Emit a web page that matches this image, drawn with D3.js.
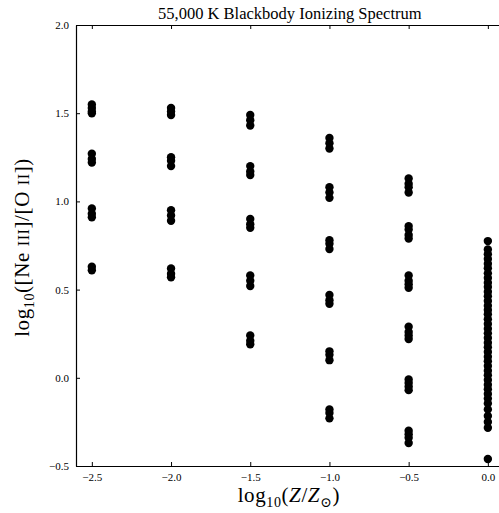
<!DOCTYPE html>
<html>
<head>
<meta charset="utf-8">
<script src="https://cdn.jsdelivr.net/npm/d3@7"></script>
<style>
  html, body { margin: 0; padding: 0; background: #fff; }
  svg { display: block; }
  text { font-family: "Liberation Serif", "DejaVu Serif", serif; fill: #000; }
</style>
</head>
<body>
<div id="chart"></div>
<script>
// ---- data ----
const metallicities = [-2.5, -2.0, -1.5, -1.0, -0.5, 0.0];
const ratiosZm25 = [1.55, 1.53, 1.51, 1.50, 1.27, 1.24, 1.22, 0.96, 0.93, 0.91, 0.63, 0.61];
const ratiosZm20 = [1.53, 1.51, 1.49, 1.25, 1.23, 1.20, 0.95, 0.92, 0.89, 0.62, 0.59, 0.57];
const ratiosZm15 = [1.49, 1.46, 1.43, 1.20, 1.17, 1.15, 0.90, 0.87, 0.85, 0.58, 0.55, 0.52, 0.24, 0.21, 0.19];
const ratiosZm10 = [1.36, 1.33, 1.30, 1.08, 1.05, 1.02, 0.78, 0.76, 0.73, 0.47, 0.44, 0.42, 0.15, 0.13, 0.10, -0.18, -0.20, -0.23];
const ratiosZm05 = [1.13, 1.10, 1.08, 1.05, 0.86, 0.84, 0.81, 0.79, 0.58, 0.55, 0.53, 0.51, 0.29, 0.26, 0.24, 0.22, -0.01, -0.03, -0.05, -0.07, -0.30, -0.32, -0.34, -0.37];
const ratiosZ00 = [0.775, 0.728, 0.700, 0.673, 0.647, 0.621, 0.592, 0.566, 0.539, 0.515, 0.488, 0.462, 0.435, 0.409, 0.384, 0.360, 0.332, 0.305, 0.278, 0.252, 0.226, 0.199, 0.173, 0.146, 0.120, 0.094, 0.067, 0.040, 0.014, -0.012, -0.039, -0.065, -0.092, -0.118, -0.145, -0.179, -0.217, -0.251, -0.283, -0.46];
const seriesValues = [ratiosZm25, ratiosZm20, ratiosZm15, ratiosZm10, ratiosZm05, ratiosZ00];
const xTicks = [-2.5, -2.0, -1.5, -1.0, -0.5, 0.0];
const yTicks = [-0.5, 0.0, 0.5, 1.0, 1.5, 2.0];
const xDomain = [-2.6, 0.1];
const yDomain = [-0.5, 2.0];
const titleText = "55,000 K Blackbody Ionizing Spectrum";

// ---- chart ----
const W = 499, H = 513;
const mLeft = 76, mTop = 25, mRight = 503.7, mBottom = 466;

const points = [];
metallicities.forEach((z, i) => seriesValues[i].forEach(v => points.push({x: z, y: v})));

const x = d3.scaleLinear().domain(xDomain).range([mLeft, mRight]);
const y = d3.scaleLinear().domain(yDomain).range([mBottom, mTop]);

const svg = d3.select("#chart").append("svg").attr("width", W).attr("height", H);

const fmt = d => (d < 0 ? "\u2212" : "") + Math.abs(d).toFixed(1);

const gx = svg.append("g").attr("transform", `translate(0,${mBottom})`)
  .call(d3.axisBottom(x).tickValues(xTicks).tickFormat(fmt).tickSizeInner(-4).tickSizeOuter(0).tickPadding(7));
const gt = svg.append("g").attr("transform", `translate(0,${mTop})`)
  .call(d3.axisTop(x).tickValues(xTicks).tickFormat("").tickSizeInner(-4).tickSizeOuter(0));
const gy = svg.append("g").attr("transform", `translate(${mLeft},0)`)
  .call(d3.axisLeft(y).tickValues(yTicks).tickFormat(fmt).tickSizeInner(-4).tickSizeOuter(0).tickPadding(7));

[gx, gt, gy].forEach(g => {
  g.select(".domain").attr("stroke", "#000").attr("stroke-width", 1.2);
  g.selectAll(".tick line").attr("stroke", "#000").attr("stroke-width", 1);
  g.selectAll(".tick text").attr("font-family", "Liberation Serif, serif").attr("font-size", 11).attr("fill", "#000");
});

svg.append("g").selectAll("circle").data(points).join("circle")
  .attr("cx", d => x(d.x)).attr("cy", d => y(d.y)).attr("r", 4.2).attr("fill", "#000");

svg.append("text").attr("x", (mLeft + mRight) / 2).attr("y", 19)
  .attr("text-anchor", "middle").attr("font-size", 16.5).text(titleText);

const xl = svg.append("text").attr("x", (mLeft + mRight) / 2 - 1).attr("y", 502)
  .attr("text-anchor", "middle").attr("font-size", 21).attr("letter-spacing", 0.6);
xl.append("tspan").text("log");
xl.append("tspan").attr("font-size", 14).attr("dy", 5).text("10");
xl.append("tspan").attr("dy", -5).text("(");
xl.append("tspan").attr("font-style", "italic").text("Z");
xl.append("tspan").text("/");
xl.append("tspan").attr("font-style", "italic").text("Z");
xl.append("tspan").attr("font-size", 14).attr("dy", 5).text("\u2299");
xl.append("tspan").attr("dy", -5).text(")");

const yl = svg.append("text").attr("transform", `translate(29,${(mTop + mBottom) / 2 + 2}) rotate(-90)`)
  .attr("text-anchor", "middle").attr("font-size", 21).attr("letter-spacing", 0.6);
yl.append("tspan").text("log");
yl.append("tspan").attr("font-size", 14).attr("dy", 5).text("10");
yl.append("tspan").attr("dy", -5).text("([Ne ");
yl.append("tspan").attr("font-size", 16).text("III");
yl.append("tspan").text("]/[O ");
yl.append("tspan").attr("font-size", 16).text("II");
yl.append("tspan").text("])");
</script>
</body>
</html>
